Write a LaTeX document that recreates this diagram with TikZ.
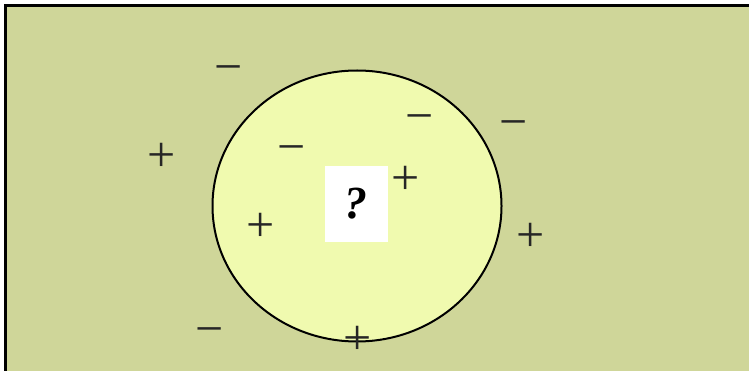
\documentclass[tikz,border=0pt]{standalone}
\usepackage{fontspec}
\setmainfont{Liberation Serif}
\usepackage{tikz}
\usetikzlibrary{shapes.geometric}

\definecolor{outerfill}{RGB}{207,214,153}
\definecolor{innerfill}{RGB}{240,250,175}

\begin{document}
\begin{tikzpicture}[
  x=1pt, y=-1pt,
  sign/.style={inner sep=0pt, text=black!85, font=\fontsize{50}{50}\selectfont, xshift=1pt},
  negsign/.style={sign, yshift=-8pt},
  possign/.style={sign, yshift=-2pt},
  query/.style={fill=white, minimum width=63pt, minimum height=76pt, inner sep=0pt,
                font=\fontsize{46}{46}\selectfont\bfseries\itshape}
]
\useasboundingbox (0,0) rectangle (749,371);
% background region
\draw[line width=2.5pt, fill=outerfill] (5.5,5.5) rectangle (760,380);
% the class region
\node[draw, line width=2pt, fill=innerfill, ellipse, minimum width=289pt, minimum height=271pt, inner sep=0pt] (region) at (357,206) {};
% unknown point
\node[query] (q) at (356,204) {?};
% negative examples
\node[negsign] (n1) at (228,67) {−};
\node[negsign] (n2) at (419,116) {−};
\node[negsign] (n3) at (513,122) {−};
\node[negsign] (n4) at (291,147) {−};
\node[negsign] (n5) at (209,329) {−};
% positive examples
\node[possign] (p1) at (161,155) {+};
\node[possign] (p2) at (405,178) {+};
\node[possign] (p3) at (260,225) {+};
\node[possign] (p4) at (530,235) {+};
\node[possign] (p5) at (357,338) {+};
\end{tikzpicture}
\end{document}
